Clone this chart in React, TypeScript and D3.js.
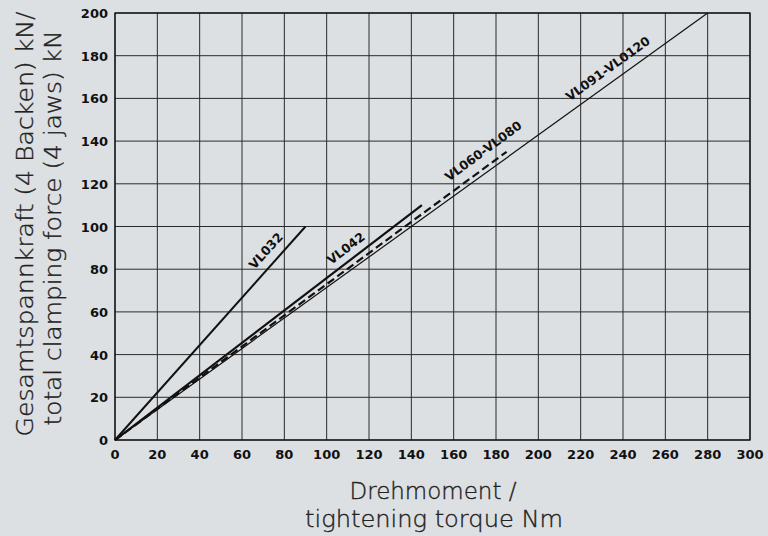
import React from "react";
import * as d3 from "d3";

const xTicks = [0, 20, 40, 60, 80, 100, 120, 140, 160, 180, 200, 220, 240, 260, 280, 300];
const yTicks = [0, 20, 40, 60, 80, 100, 120, 140, 160, 180, 200];

const seriesNames = ["VL032", "VL042", "VL060-VL080", "VL091-VL0120"];
const seriesEndTorque = [90, 145, 185, 280];
const seriesEndForce = [100, 110, 135, 200];
const seriesDashed = [false, false, true, false];
const seriesWidth = [2, 2.2, 2.2, 1.2];
// label position along the line (torque) and perpendicular offset
const labelTorque = [76, 112.5, 178, 236.5];
const labelOffset = [13.5, 12, 14.5, 13.3];

const W = 768, H = 536;
const m = { left: 115, right: 18, top: 13, bottom: 96 };

export default function App() {
  const x = d3.scaleLinear().domain([0, 300]).range([m.left, W - m.right]);
  const y = d3.scaleLinear().domain([0, 200]).range([H - m.bottom, m.top]);
  const line = d3.line<[number, number]>().x((d) => x(d[0])).y((d) => y(d[1]));
  const tickFont = "'DejaVu Sans', sans-serif";
  const titleFont = "'DejaVu Sans', sans-serif";
  const titleProps = {
    fontFamily: titleFont, fontWeight: 200, fontSize: 22.5, fill: "#222",
    stroke: "#222", strokeWidth: 0.35, lengthAdjust: "spacingAndGlyphs" as const,
  };
  return (
    <svg width={W} height={H} style={{ position: "absolute", left: 0, top: 0, background: "#dde0e3" }}>
      <rect x={0} y={0} width={W} height={H} fill="#dde0e3" />
      {xTicks.map((t) => (
        <line key={"gx" + t} x1={x(t)} x2={x(t)} y1={y(0)} y2={y(200)} stroke="#2a2a2a" strokeWidth={1} />
      ))}
      {yTicks.map((t) => (
        <line key={"gy" + t} x1={x(0)} x2={x(300)} y1={y(t)} y2={y(t)} stroke="#2a2a2a" strokeWidth={1} />
      ))}
      <rect x={x(0)} y={y(200)} width={x(300) - x(0)} height={y(0) - y(200)} fill="none" stroke="#111" strokeWidth={1.3} />
      {xTicks.map((t) => (
        <text key={"tx" + t} x={x(t)} y={y(0) + 19} textAnchor="middle" fontFamily={tickFont} fontWeight={700} fontSize={13} fill="#111">{t}</text>
      ))}
      {yTicks.map((t) => (
        <text key={"ty" + t} x={x(0) - 7} y={y(t) + 5} textAnchor="end" fontFamily={tickFont} fontWeight={700} fontSize={13} fill="#111">{t}</text>
      ))}
      {seriesNames.map((n, i) => {
        const d = line([[0, 0], [seriesEndTorque[i], seriesEndForce[i]]]) || "";
        return (
          <path key={n} d={d} fill="none" stroke="#111" strokeWidth={seriesWidth[i]}
            strokeDasharray={seriesDashed[i] ? "8,4" : undefined} />
        );
      })}
      {seriesNames.map((n, i) => {
        const slope = seriesEndForce[i] / seriesEndTorque[i];
        const dx = x(seriesEndTorque[i]) - x(0);
        const dy = y(0) - y(seriesEndForce[i]);
        const rad = Math.atan2(dy, dx);
        const ang = (rad * 180) / Math.PI;
        const px = x(labelTorque[i]);
        const py = y(labelTorque[i] * slope);
        const ox = px - Math.sin(rad) * labelOffset[i];
        const oy = py - Math.cos(rad) * labelOffset[i];
        return (
          <text key={"l" + n} x={ox} y={oy} transform={`rotate(${-ang},${ox},${oy})`} textAnchor="middle"
            dominantBaseline="central" fontFamily={tickFont} fontWeight={600} fontSize={12.5} fill="#111">{n}</text>
        );
      })}
      <text transform={`translate(33,224) rotate(-90)`} textAnchor="middle" {...titleProps} textLength={425}>Gesamtspannkraft (4 Backen) kN/</text>
      <text transform={`translate(61,228) rotate(-90)`} textAnchor="middle" {...titleProps} textLength={395}>total clamping force (4 jaws) kN</text>
      <text x={433} y={499} textAnchor="middle" {...titleProps} textLength={167}>Drehmoment /</text>
      <text x={434} y={527} textAnchor="middle" {...titleProps} textLength={258}>tightening torque Nm</text>
    </svg>
  );
}
